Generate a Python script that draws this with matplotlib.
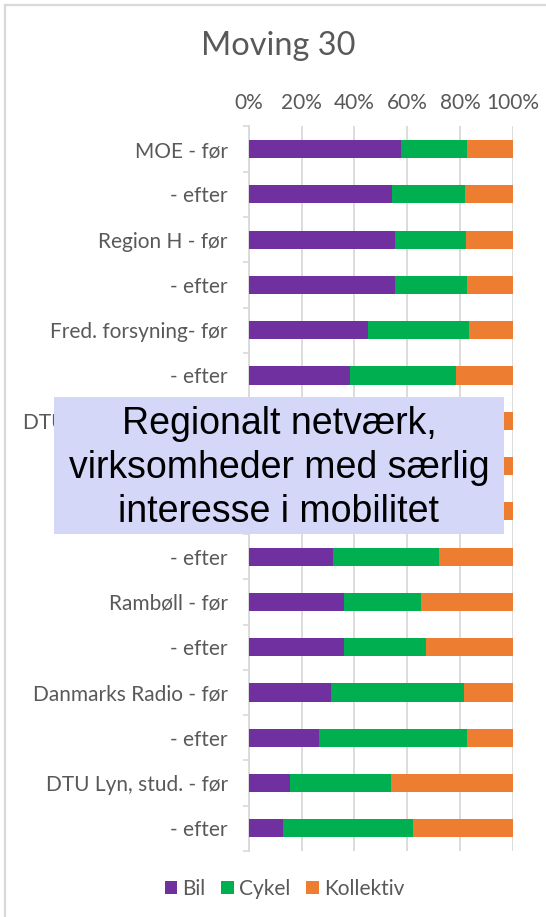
import numpy as np
import matplotlib.pyplot as plt
from matplotlib.patches import Rectangle
from matplotlib.lines import Line2D

plt.rcParams['font.family'] = ['Lato', 'DejaVu Sans']

# -----------------------------
# Data (shares)
# -----------------------------
labels = [
    'MOE - før', '- efter',
    'Region H - før', '- efter',
    'Fred. forsyning- før', '- efter',
    'DTU Lyn, ansatte - før', '- efter',
    'DTU Risø - før', '- efter',
    'Rambøll - før', '- efter',
    'Danmarks Radio - før', '- efter',
    'DTU Lyn, stud. - før', '- efter',
]
bil = [57.6, 54.3, 55.3, 55.3, 45.2, 38.4, 30.0, 28.0, 33.0, 31.9,
       36.1, 36.1, 31.2, 26.5, 15.5, 12.9]
cykel = [25.1, 27.5, 26.9, 27.4, 38.4, 40.1, 45.0, 47.0, 40.0, 40.2,
         29.3, 31.1, 50.2, 56.2, 38.4, 49.3]
kollektiv = [17.3, 18.2, 17.8, 17.3, 16.4, 21.5, 25.0, 25.0, 27.0, 27.9,
             34.6, 32.8, 18.6, 17.3, 46.1, 37.8]
series = ['Bil', 'Cykel', 'Kollektiv']
colors = ['#7030A0', '#00B050', '#ED7D31']
ticks = [0, 20, 40, 60, 80, 100]
box_lines = ['Regionalt netværk,', 'virksomheder med særlig', 'interesse i mobilitet']

W, H = 546, 917
txt = '#595959'
grid_c = '#d9d9d9'

fig = plt.figure(figsize=(W / 100, H / 100), dpi=100)

# chart frame (top + left edge visible)
fig.add_artist(Line2D([5 / W, 1], [1 - 5 / H, 1 - 5 / H], color=grid_c, lw=1.6))
fig.add_artist(Line2D([5 / W, 5 / W], [0, 1 - 5 / H], color=grid_c, lw=1.6))

ax = fig.add_axes([248.7 / W, 66 / H, 264 / W, (851 - 126.4) / H])

y = np.arange(len(labels))
b = np.array(bil)
c = np.array(cykel)
k = np.array(kollektiv)
tot = b + c + k
b, c, k = b / tot * 100, c / tot * 100, k / tot * 100

ax.barh(y, b, height=0.4, color=colors[0], label=series[0], zorder=3)
ax.barh(y, c, left=b, height=0.4, color=colors[1], label=series[1], zorder=3)
ax.barh(y, k, left=b + c, height=0.4, color=colors[2], label=series[2], zorder=3)

ax.set_xlim(0, 100)
ax.set_ylim(len(labels) - 0.5, -0.5)
ax.set_xticks(ticks)
ax.set_xticklabels([f'{t}%' for t in ticks])
ax.xaxis.tick_top()
ax.tick_params(axis='x', length=0, pad=10, labelsize=15, labelcolor=txt)

ax.set_yticks(y)
ax.set_yticklabels(labels)
ax.set_yticks(np.arange(len(labels) + 1) - 0.5, minor=True)
ax.tick_params(axis='y', which='major', length=0, pad=15, labelsize=15, labelcolor=txt)
ax.tick_params(axis='y', which='minor', length=4, width=1.2, color=grid_c)

ax.grid(True, axis='x', color=grid_c, lw=1.3, zorder=0)
for s in ['top', 'right', 'bottom']:
    ax.spines[s].set_visible(False)
ax.spines['left'].set_color(grid_c)
ax.spines['left'].set_linewidth(1.3)

# title
fig.text(278 / W, 1 - 46 / H, 'Moving 30', ha='center', va='center',
         fontsize=23.4, color=txt)

# legend
fig.legend(loc='center', bbox_to_anchor=(284.5 / W, 1 - 889 / H), ncol=3,
           frameon=False, fontsize=15, labelcolor=txt, handlelength=0.6,
           handleheight=0.6, handletextpad=0.25, columnspacing=0.75)

# overlay box
fig.add_artist(Rectangle((54 / W, 1 - 534 / H), (504 - 54) / W, (534 - 397) / H,
                         transform=fig.transFigure, facecolor='#D5D7F8',
                         edgecolor='none', zorder=5))
for line, base in zip(box_lines, [434, 478, 522]):
    fig.text(279 / W, 1 - base / H, line, ha='center', va='baseline',
             fontsize=27, family=['Liberation Sans'], color='black', zorder=6)

plt.savefig('out.png', dpi=100)
